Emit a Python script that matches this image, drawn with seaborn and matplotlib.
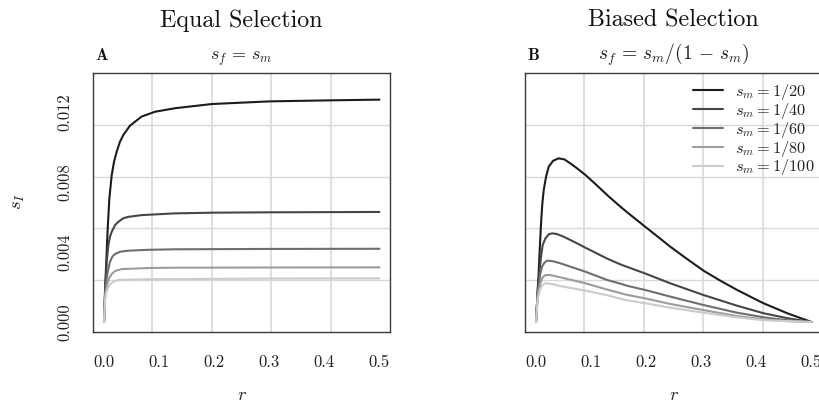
import matplotlib
matplotlib.use("Agg")
import matplotlib.pyplot as plt
from matplotlib.lines import Line2D
import seaborn as sns
import pandas as pd

# ---------------- data ----------------
series_labels = ["1/20", "1/40", "1/60", "1/80", "1/100"]
line_colors = ["#1c1c1c", "#464646", "#6e6e6e", "#9c9c9c", "#cbcbcb"]

# Panel A: equal selection  s_f = s_m
eq_r_20 = [0, 0.0018, 0.0036, 0.0067, 0.0097, 0.014, 0.0182, 0.023, 0.029, 0.035, 0.047, 0.068, 0.0926, 0.129, 0.196, 0.30, 0.41, 0.5]
eq_s_20 = [0, 0.00173, 0.00306, 0.00535, 0.00706, 0.00839, 0.00915, 0.00972, 0.01029, 0.01067, 0.0112, 0.01172, 0.0120, 0.0122, 0.01244, 0.01259, 0.01265, 0.01269]
eq_r_40 = [0, 0.002, 0.0049, 0.0079, 0.0109, 0.014, 0.02, 0.026, 0.035, 0.044, 0.068, 0.129, 0.2, 0.3, 0.4, 0.5]
eq_s_40 = [0, 0.0017, 0.00344, 0.0044, 0.00487, 0.00515, 0.00553, 0.00572, 0.00592, 0.0060, 0.0061, 0.0062, 0.00624, 0.00626, 0.00627, 0.00628]
eq_r_60 = [0, 0.002, 0.0045, 0.0067, 0.0109, 0.0151, 0.02, 0.029, 0.044, 0.08, 0.129, 0.3, 0.5]
eq_s_60 = [0, 0.0016, 0.0024, 0.00287, 0.00344, 0.00373, 0.00388, 0.00401, 0.00407, 0.00412, 0.00415, 0.00417, 0.00418]
eq_r_80 = [0, 0.002, 0.0055, 0.0091, 0.014, 0.02, 0.032, 0.08, 0.129, 0.3, 0.5]
eq_s_80 = [0, 0.0015, 0.0021, 0.00249, 0.00274, 0.00291, 0.00302, 0.00308, 0.0031, 0.00311, 0.00312]
eq_r_100 = [0, 0.002, 0.0045, 0.0067, 0.0109, 0.017, 0.026, 0.08, 0.129, 0.3, 0.5]
eq_s_100 = [0, 0.0013, 0.0017, 0.00192, 0.00215, 0.0023, 0.0024, 0.00244, 0.00245, 0.00248, 0.00249]

# Panel B: biased selection  s_f = s_m / (1 - s_m)
bi_r_20 = [0, 0.003, 0.0048, 0.0067, 0.0091, 0.0115, 0.014, 0.0182, 0.023, 0.031, 0.041, 0.0515, 0.0624, 0.0745, 0.0897, 0.108, 0.129, 0.147, 0.165, 0.177, 0.198, 0.2194, 0.2436, 0.274, 0.304, 0.3345, 0.365, 0.395, 0.413, 0.456, 0.5]
bi_s_20 = [0, 0.00183, 0.00278, 0.00411, 0.00563, 0.00677, 0.00753, 0.00829, 0.00886, 0.0092, 0.00934, 0.00928, 0.00905, 0.00877, 0.00839, 0.00787, 0.00725, 0.00675, 0.00627, 0.00597, 0.00544, 0.00491, 0.0043, 0.0036, 0.00293, 0.00236, 0.00183, 0.00135, 0.00107, 0.0005, 0]
bi_r_40 = [0, 0.003, 0.006, 0.0091, 0.0121, 0.017, 0.023, 0.029, 0.038, 0.050, 0.0745, 0.0897, 0.129, 0.153, 0.165, 0.198, 0.2436, 0.304, 0.365, 0.413, 0.456, 0.5]
bi_s_40 = [0, 0.0017, 0.00278, 0.00373, 0.00439, 0.00477, 0.0050, 0.00506, 0.00502, 0.00487, 0.00449, 0.00424, 0.00362, 0.00329, 0.00315, 0.00277, 0.00221, 0.00154, 0.00093, 0.0005, 0.00022, 0]
bi_r_60 = [0, 0.003, 0.0079, 0.0109, 0.0151, 0.02, 0.029, 0.0442, 0.0897, 0.129, 0.153, 0.165, 0.198, 0.2436, 0.304, 0.365, 0.413, 0.456, 0.5]
bi_s_60 = [0, 0.0016, 0.00278, 0.00316, 0.00338, 0.0035, 0.00348, 0.00335, 0.00287, 0.0024, 0.00219, 0.00207, 0.00183, 0.00145, 0.00097, 0.00053, 0.00027, 0.0001, 0]
bi_r_80 = [0, 0.003, 0.0079, 0.0121, 0.017, 0.026, 0.0442, 0.0897, 0.129, 0.153, 0.165, 0.198, 0.2436, 0.304, 0.365, 0.413, 0.456, 0.5]
bi_s_80 = [0, 0.0015, 0.00221, 0.00255, 0.00268, 0.00268, 0.00255, 0.00221, 0.00185, 0.00165, 0.00155, 0.00135, 0.00103, 0.00068, 0.00034, 0.00015, 0.00005, 0]
bi_r_100 = [0, 0.003, 0.0079, 0.0121, 0.017, 0.029, 0.0442, 0.0897, 0.129, 0.153, 0.165, 0.198, 0.2436, 0.304, 0.365, 0.413, 0.5]
bi_s_100 = [0, 0.0013, 0.00192, 0.00211, 0.00221, 0.00217, 0.00205, 0.00179, 0.00153, 0.00133, 0.00124, 0.00107, 0.00082, 0.00053, 0.00027, 0.0001, 0]

x_ticks = [0.0, 0.1, 0.2, 0.3, 0.4, 0.5]
x_tick_labels = ["0.0", "0.1", "0.2", "0.3", "0.4", "0.5"]
y_ticks = [0.000, 0.004, 0.008, 0.012]
y_tick_labels = ["0.000", "0.004", "0.008", "0.012"]

panel_titles = ["Equal Selection", "Biased Selection"]
panel_letters = ["A", "B"]
panel_subtitles = [r"$s_f\,=\,s_m$", r"$s_f\,=\,s_m/(1\,-\,s_m)$"]
panel_subtitle_sizes = [13, 14]


def long_frame(rs, ss):
    rows = []
    for lab, r, s in zip(series_labels, rs, ss):
        for a, b in zip(r, s):
            rows.append({"r": a, "s": b, "series": lab})
    return pd.DataFrame(rows)


df_eq = long_frame([eq_r_20, eq_r_40, eq_r_60, eq_r_80, eq_r_100],
                   [eq_s_20, eq_s_40, eq_s_60, eq_s_80, eq_s_100])
df_bi = long_frame([bi_r_20, bi_r_40, bi_r_60, bi_r_80, bi_r_100],
                   [bi_s_20, bi_s_40, bi_s_60, bi_s_80, bi_s_100])

# ---------------- style ----------------
sns.set_style("white")
plt.rcParams["font.family"] = ["cmr10", "DejaVu Serif"]
plt.rcParams["mathtext.fontset"] = "cm"
plt.rcParams["axes.formatter.use_mathtext"] = True

W, H = 820, 407
fig = plt.figure(figsize=(W / 100, H / 100), dpi=100)
fig.patch.set_facecolor("white")

xlim = (-0.02, 0.52)
ylim = (-0.00057, 0.01421)

ax_left_px = [93, 525]
ax_w_px = 297.5
ax_top_px, ax_bot_px = 73, 332
palette = dict(zip(series_labels, line_colors))

axes = []
for i, df in enumerate([df_eq, df_bi]):
    ax = fig.add_axes([ax_left_px[i] / W, 1 - ax_bot_px / H, ax_w_px / W, (ax_bot_px - ax_top_px) / H])
    axes.append(ax)
    ax.set_facecolor("white")
    # R-style grid: equal divisions of the plot region
    for k in range(1, 5):
        ax.axvline(xlim[0] + k * (xlim[1] - xlim[0]) / 5, color="#d6d6d6", lw=1.1, zorder=0)
        ax.axhline(ylim[0] + k * (ylim[1] - ylim[0]) / 5, color="#d9d9d9", lw=1.0, zorder=0)
    sns.lineplot(data=df, x="r", y="s", hue="series", hue_order=series_labels,
                 palette=palette, sort=False, estimator=None, legend=False,
                 linewidth=1.5, ax=ax, zorder=3)
    for ln in ax.get_lines():
        ln.set_solid_joinstyle("round")
    ax.set_xlim(*xlim)
    ax.set_ylim(*ylim)
    ax.set_xlabel("")
    ax.set_ylabel("")
    ax.set_xticks(x_ticks)
    ax.set_xticklabels(x_tick_labels)
    ax.set_yticks(y_ticks)
    if i == 0:
        ax.set_yticklabels(y_tick_labels, rotation=90, va="center")
    else:
        ax.set_yticklabels([])
    ax.tick_params(axis="both", direction="out", length=7, width=0.9, color="black",
                   labelsize=12, labelcolor="#222222")
    ax.tick_params(axis="x", pad=9)
    ax.tick_params(axis="y", pad=7.5)
    for sp in ax.spines.values():
        sp.set_visible(True)
        sp.set_color("#3a3a3a")
        sp.set_linewidth(1.0)

    cx = (ax_left_px[i] + ax_w_px / 2) / W
    fig.text(cx, 1 - 26.5 / H, panel_titles[i], ha="center", va="baseline", fontsize=17.3, color="#111111")
    fig.text(cx, 1 - 59.5 / H, panel_subtitles[i], ha="center", va="baseline",
             fontsize=panel_subtitle_sizes[i], color="#222222")
    fig.text((ax_left_px[i] + 8.5) / W, 1 - 60 / H, panel_letters[i], ha="center", va="baseline",
             fontsize=12, family="cmb10", color="#111111")
    fig.text(cx, 1 - 400 / H, r"$r$", ha="center", va="baseline", fontsize=13.5, color="#222222")

fig.text(18.5 / W, 1 - 201.7 / H, r"$s_I$", ha="center", va="center", rotation=90, fontsize=13.5, color="#222222")

# legend in panel B
handles = [Line2D([0], [0], color=c, lw=1.5) for c in line_colors]
labels = [r"$s_m = %s$" % s for s in series_labels]
leg = axes[1].legend(handles, labels, loc="upper left", bbox_to_anchor=(693 / W, 1 - 82 / H),
                     bbox_transform=fig.transFigure, frameon=False, fontsize=11.8,
                     handlelength=1.85, handletextpad=0.72, labelspacing=-0.07,
                     borderpad=0, borderaxespad=0)
for t in leg.get_texts():
    t.set_color("#222222")

fig.savefig("out.png", dpi=100, facecolor="white")
